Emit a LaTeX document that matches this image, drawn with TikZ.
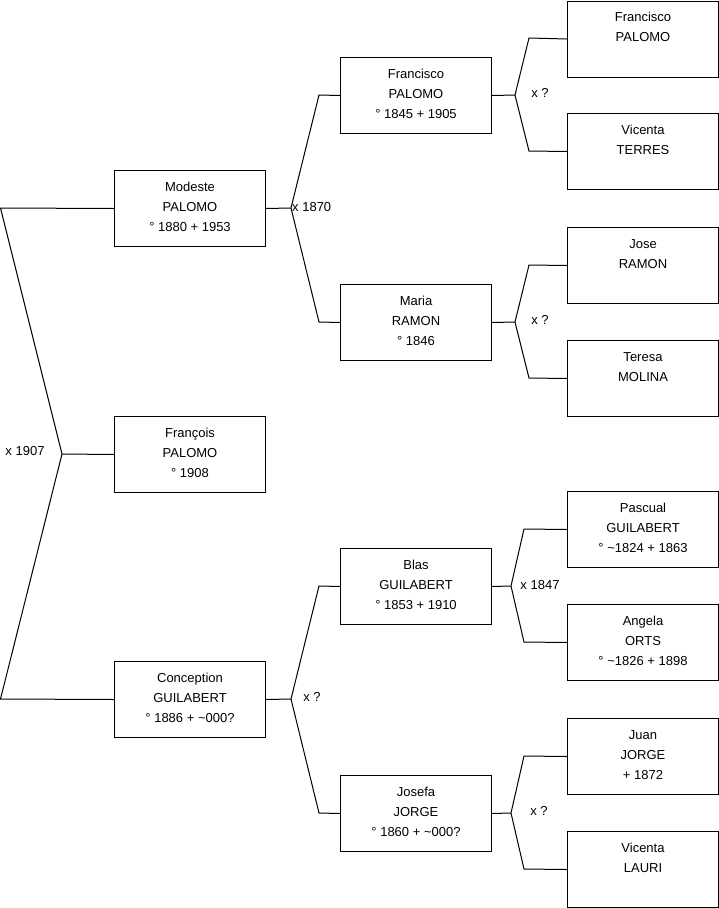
\documentclass[tikz,border=0pt]{standalone}
\usepackage{fontspec}
\setmainfont{Liberation Sans}
\begin{document}
\begin{tikzpicture}[x=1pt,y=-1pt,
  person/.style={draw=black, line width=1pt, minimum width=151pt, minimum height=76pt, inner sep=0pt, anchor=north west},
  ptext/.style={anchor=north, align=center, inner sep=0pt, font=\fontsize{13}{20}\selectfont},
  link/.style={draw=black, line width=1pt, line join=miter},
  mlabel/.style={font=\fontsize{13}{16}\selectfont, inner sep=0pt}]
\newcommand\pers[4]{\node[person] (#1) at (#2,#3) {}; \node[ptext] (#1t) at ([yshift=-7pt]#1.north) {\strut #4};}
\useasboundingbox (0,0) rectangle (719,908);
% column 1
\pers{modeste}{114}{170}{Modeste\\PALOMO\\° 1880 + 1953}
\pers{francois}{114}{416}{François\\PALOMO\\° 1908}
\pers{conception}{114}{661}{Conception\\GUILABERT\\° 1886 + \textasciitilde000?}
% column 2
\pers{francisco}{340}{57}{Francisco\\PALOMO\\° 1845 + 1905}
\pers{maria}{340}{284}{Maria\\RAMON\\° 1846}
\pers{blas}{340}{548}{Blas\\GUILABERT\\° 1853 + 1910}
\pers{josefa}{340}{775}{Josefa\\JORGE\\° 1860 + \textasciitilde000?}
% column 3
\pers{ffrancisco}{567}{0.5}{Francisco\\PALOMO}
\pers{vterres}{567}{113}{Vicenta\\TERRES}
\pers{jose}{567}{227}{Jose\\RAMON}
\pers{teresa}{567}{340}{Teresa\\MOLINA}
\pers{pascual}{567}{491}{Pascual\\GUILABERT\\° \textasciitilde1824 + 1863}
\pers{angela}{567}{604}{Angela\\ORTS\\° \textasciitilde1826 + 1898}
\pers{juan}{567}{718}{Juan\\JORGE\\+ 1872}
\pers{vlauri}{567}{831}{Vicenta\\LAURI}

% junctions and elbows
\coordinate (j0) at (62,454);
\coordinate (e0a) at (0.5,208);
\coordinate (e0b) at (0.5,699);
\coordinate (j1) at (291,208);
\coordinate (e1a) at (319,95);
\coordinate (e1b) at (319,322);
\coordinate (j2) at (291,699);
\coordinate (e2a) at (319,586);
\coordinate (e2b) at (319,813);
\coordinate (j3) at (515,95);
\coordinate (e3a) at (529,38);
\coordinate (e3b) at (529,151);
\coordinate (j4) at (515,322);
\coordinate (e4a) at (529,265);
\coordinate (e4b) at (529,378);
\coordinate (j5) at (511,586);
\coordinate (e5a) at (524,529);
\coordinate (e5b) at (524,642);
\coordinate (j6) at (511,813);
\coordinate (e6a) at (524,756);
\coordinate (e6b) at (524,869);

\draw[link] (francois.west) -- (j0);
\draw[link] (modeste.west) -- (e0a) -- (j0) -- (e0b) -- (conception.west);
\draw[link] (modeste.east) -- (j1);
\draw[link] (francisco.west) -- (e1a) -- (j1) -- (e1b) -- (maria.west);
\draw[link] (conception.east) -- (j2);
\draw[link] (blas.west) -- (e2a) -- (j2) -- (e2b) -- (josefa.west);
\draw[link] (francisco.east) -- (j3);
\draw[link] (ffrancisco.west) -- (e3a) -- (j3) -- (e3b) -- (vterres.west);
\draw[link] (maria.east) -- (j4);
\draw[link] (jose.west) -- (e4a) -- (j4) -- (e4b) -- (teresa.west);
\draw[link] (blas.east) -- (j5);
\draw[link] (pascual.west) -- (e5a) -- (j5) -- (e5b) -- (angela.west);
\draw[link] (josefa.east) -- (j6);
\draw[link] (juan.west) -- (e6a) -- (j6) -- (e6b) -- (vlauri.west);

% marriage labels
\node[mlabel] (m0) at (25,451) {x 1907};
\node[mlabel, anchor=west] (m1) at (292,207) {x 1870};
\node[mlabel] (m2) at (312,697) {x ?};
\node[mlabel] (m3) at (540,93) {x ?};
\node[mlabel] (m4) at (540,320) {x ?};
\node[mlabel] (m5) at (540,585) {x 1847};
\node[mlabel] (m6) at (539,811) {x ?};
\end{tikzpicture}
\end{document}
